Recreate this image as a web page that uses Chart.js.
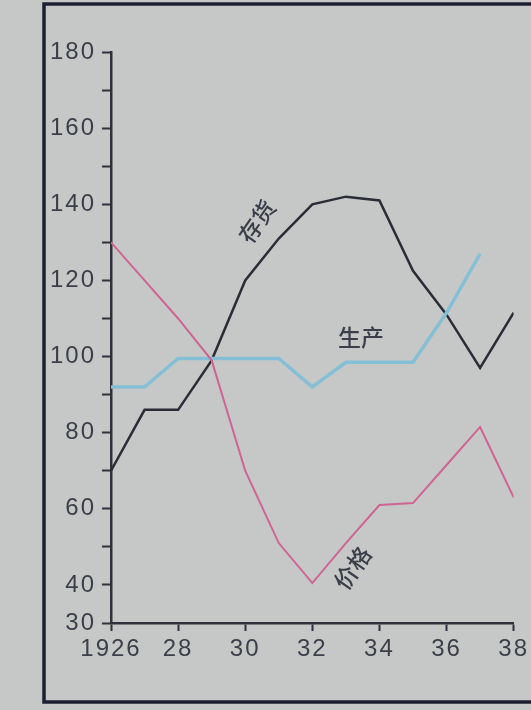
<!DOCTYPE html>
<html>
<head>
    <meta charset="utf-8">
    <title>存货 生产 价格 1926-38</title>
    <script src="https://cdn.jsdelivr.net/npm/chart.js"></script>
    <style>
        html, body { margin: 0; padding: 0; background: #c6c8c7; }
        #wrap { width: 531px; height: 710px; }
    </style>
</head>
<body>
    <div id="wrap"><canvas id="chart" width="531" height="710"></canvas></div>

    <script>
    // values (index numbers)
    const years = [1926, 1927, 1928, 1929, 1930, 1931, 1932, 1933, 1934, 1935, 1936, 1937, 1938];
    const inventory = [70, 86, 86, 99, 120, 131, 140, 142, 141, 122.5, 111, 97, 111.5];   // 存货
    const production = [92, 92, 99.5, 99.5, 99.5, 99.5, 92, 98.5, 98.5, 98.5, 111.5, 127, null]; // 生产
    const price = [130, 120, 110, 99, 70, 51, 40.5, 51, 61, 61.5, 71.5, 81.5, 63];        // 价格

    const xTickLabels = { 1926: '1926', 1928: '28', 1930: '30', 1932: '32', 1934: '34', 1936: '36', 1938: '38' };
    const yLabelled = [30, 40, 60, 80, 100, 120, 140, 160, 180];

    const axisColor = '#2e3139';
    const textColor = '#3c3f49';

    function pts(arr) {
        return years.map((y, i) => ({ x: y, y: arr[i] }));
    }

    // background + the dark frame around the figure
    const framePlugin = {
        id: 'frame',
        beforeDraw(chart) {
            const c = chart.ctx;
            c.fillStyle = '#c6c8c7';
            c.fillRect(0, 0, chart.width, chart.height);
            c.save();
            c.strokeStyle = '#1d2033';
            c.lineWidth = 3.5;
            c.beginPath();
            c.moveTo(531, 4);
            c.lineTo(44, 4);
            c.lineTo(44, 702);
            c.lineTo(531, 702);
            c.stroke();
            c.restore();
            // the printed digits are spaced out a little
            c.letterSpacing = '2px';
        }
    };

    // the series names written next to the lines
    const namePlugin = {
        id: 'names',
        afterDatasetsDraw(chart) {
            const c = chart.ctx;
            const xs = chart.scales.x, ys = chart.scales.y;
            const names = [
                { t: '存货', x: 1930.35, y: 135.5, rot: -55 },
                { t: '生产', x: 1933.45, y: 105, rot: 0 },
                { t: '价格', x: 1933.2, y: 44.5, rot: -55 }
            ];
            c.save();
            c.letterSpacing = '0px';
            c.fillStyle = textColor;
            c.font = '500 23px "Noto Sans CJK SC"';
            c.textAlign = 'center';
            c.textBaseline = 'middle';
            names.forEach(n => {
                c.save();
                c.translate(xs.getPixelForValue(n.x), ys.getPixelForValue(n.y));
                c.rotate(n.rot * Math.PI / 180);
                c.fillText(n.t, 0, 0);
                c.restore();
            });
            c.restore();
        }
    };

    new Chart(document.getElementById('chart').getContext('2d'), {
        type: 'line',
        data: {
            datasets: [{
                label: '价格',
                data: pts(price),
                borderColor: '#cf6493',
                borderWidth: 2,
                pointRadius: 0,
                tension: 0
            }, {
                label: '生产',
                data: pts(production),
                borderColor: '#84bfd5',
                borderWidth: 3.5,
                pointRadius: 0,
                tension: 0
            }, {
                label: '存货',
                data: pts(inventory),
                borderColor: '#2a2d35',
                borderWidth: 2.5,
                pointRadius: 0,
                tension: 0
            }]
        },
        options: {
            responsive: false,
            animation: false,
            layout: { padding: { top: 52, right: 16, left: 0, bottom: 0 } },
            plugins: { legend: { display: false }, tooltip: { enabled: false } },
            scales: {
                x: {
                    type: 'linear',
                    min: 1926,
                    max: 1938,
                    afterFit(scale) { scale.height = 87; },
                    afterBuildTicks(scale) {
                        scale.ticks = Object.keys(xTickLabels).map(v => ({ value: +v }));
                    },
                    ticks: {
                        autoSkip: false,
                        maxRotation: 0,
                        padding: 4,
                        color: textColor,
                        font: { family: '"Liberation Sans"', size: 24 },
                        callback: v => xTickLabels[v] || ''
                    },
                    grid: { drawOnChartArea: false, tickLength: 8, tickWidth: 2, tickColor: axisColor },
                    border: { color: axisColor, width: 2.5 }
                },
                y: {
                    min: 30,
                    max: 180,
                    afterFit(scale) { scale.width = 111; },
                    ticks: {
                        stepSize: 10,
                        padding: 6,
                        color: textColor,
                        font: { family: '"Liberation Sans"', size: 24 },
                        callback: v => yLabelled.includes(v) ? v : ''
                    },
                    grid: { drawOnChartArea: false, tickLength: 9, tickWidth: 2, tickColor: axisColor },
                    border: { color: axisColor, width: 2.5 }
                }
            }
        },
        plugins: [framePlugin, namePlugin]
    });
    </script>
</body>
</html>
